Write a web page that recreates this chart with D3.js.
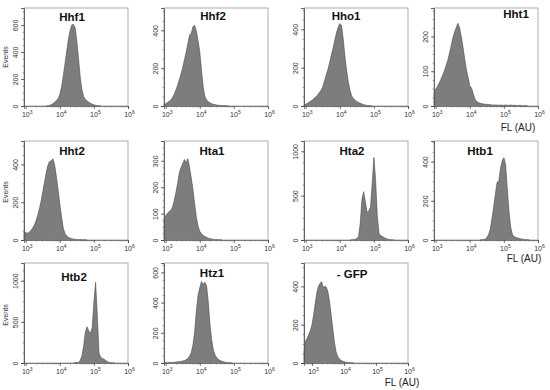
<!DOCTYPE html>
<html>
<head>
<meta charset="utf-8">
<script src="https://cdn.jsdelivr.net/npm/d3@7"></script>
<style>
  body { margin: 0; background: #fff; }
  svg { display: block; font-family: "Liberation Sans", Arial, sans-serif; }
</style>
</head>
<body>
<div id="chart"></div>
<script>
// panel titles
var names = ["Hhf1", "Hhf2", "Hho1", "Hht1", "Hht2", "Hta1", "Hta2", "Htb1", "Htb2", "Htz1", "- GFP"];

// log10(FL) of the first bin; every bin is 0.05 decades wide
var binStart = [3.60, 2.95, 2.95, 2.95, 2.95, 2.95, 4.30, 4.30, 4.40, 2.95, 2.75];
// lowest log10(FL) shown on each x axis
var xMin = [2.95, 2.95, 2.95, 2.95, 2.95, 2.95, 2.95, 2.95, 2.95, 2.95, 2.75];

// events per bin
var hhf1 = [0, 2, 5, 10, 18, 28, 40, 55, 85, 140, 220, 310, 400, 490, 560, 600, 605, 580, 480, 350, 210, 120, 70, 48, 38, 28, 20, 14, 9, 5, 3, 1, 0];
var hhf2 = [8, 12, 18, 25, 32, 45, 62, 85, 110, 140, 170, 205, 245, 285, 330, 375, 385, 420, 425, 395, 345, 285, 190, 100, 50, 32, 22, 16, 12, 9, 7, 5, 4, 3, 2, 2, 1, 1, 0];
var hho1 = [6, 9, 14, 20, 26, 32, 40, 48, 58, 70, 82, 100, 130, 160, 190, 225, 265, 300, 340, 380, 410, 430, 420, 350, 260, 185, 125, 80, 52, 38, 30, 24, 18, 14, 10, 7, 5, 3, 2, 1, 0];
var hht1 = [40, 48, 56, 66, 76, 88, 100, 115, 130, 150, 172, 195, 212, 225, 238, 225, 200, 170, 135, 105, 82, 58, 52, 35, 20, 13, 10, 8, 7, 6, 5, 5, 4, 4, 3, 3, 3, 3, 2, 3, 2, 2, 3, 2, 2, 3, 2, 2, 2, 1, 2, 1, 1, 1, 1, 0];
var hht2 = [45, 40, 36, 40, 50, 62, 78, 100, 130, 165, 205, 255, 305, 355, 395, 415, 420, 430, 395, 335, 265, 190, 125, 65, 35, 22, 14, 10, 7, 5, 4, 3, 2, 2, 1, 1, 1, 0];
var hta1 = [80, 92, 100, 108, 112, 125, 150, 180, 215, 255, 275, 290, 305, 292, 308, 275, 235, 190, 135, 85, 52, 33, 24, 17, 13, 10, 7, 5, 4, 3, 2, 2, 1, 1, 0];
var hta2 = [0, 2, 4, 8, 15, 40, 190, 460, 545, 430, 310, 330, 370, 640, 930, 680, 270, 75, 48, 40, 28, 18, 10, 5, 2, 1, 0];
var htb1 = [0, 1, 3, 5, 12, 28, 55, 110, 170, 235, 295, 300, 365, 405, 420, 385, 260, 145, 65, 28, 18, 13, 10, 8, 6, 4, 3, 2, 1, 0];
var htb2 = [0, 2, 5, 10, 30, 90, 210, 380, 440, 390, 360, 430, 740, 980, 580, 120, 70, 55, 45, 30, 15, 8, 3, 1, 0];
var htz1 = [0, 1, 2, 3, 4, 4, 5, 6, 8, 9, 11, 13, 16, 22, 30, 45, 70, 120, 210, 350, 450, 500, 540, 520, 535, 510, 400, 250, 150, 85, 52, 35, 24, 16, 11, 8, 5, 3, 2, 1, 0];
var gfp = [60, 115, 130, 150, 170, 200, 250, 310, 365, 400, 415, 425, 395, 400, 395, 370, 320, 250, 180, 110, 60, 35, 22, 15, 10, 7, 5, 3, 2, 1, 1, 0];

var counts = [hhf1, hhf2, hho1, hht1, hht2, hta1, hta2, htb1, htb2, htz1, gfp];

// y axes
var yMax = [726, 518, 511, 282, 524, 375, 1116, 505, 1215, 662, 522];
var yTicks = [
  [0, 200, 400, 600], [0, 200, 400], [0, 200, 400], [0, 100, 200],
  [0, 200, 400], [0, 100, 200, 300], [0, 500, 1000], [0, 200, 400],
  [0, 500, 1000], [0, 200, 400, 600], [0, 200, 400]
];
var xTicks = [1e3, 1e4, 1e5, 1e6];
var xTickExp = ["3", "4", "5", "6"];

// layout
var W = 550, H = 390;
var colX = [24, 164, 304, 434];
var rowTop = [8, 141, 263];
var rowBottom = [106, 240, 363];
var boxW = 104;
var titlePos = [[72, 21], [213, 20], [346, 20], [516, 18], [72, 155], [212, 155],
                [352, 155], [480, 155], [74, 281], [212, 277], [352, 278]];

var svg = d3.select("#chart").append("svg")
  .attr("width", W)
  .attr("height", H);

names.forEach(function (name, i) {
  var col = i % 4, row = Math.floor(i / 4);
  var left = colX[col], right = left + boxW;
  var top = rowTop[row], bottom = rowBottom[row];

  var x = d3.scaleLog().domain([Math.pow(10, xMin[i]), 1e6]).range([left, right]);
  var y = d3.scaleLinear().domain([0, yMax[i]]).range([bottom, top]);

  var g = svg.append("g");

  // histogram points
  var pts = counts[i].map(function (c, k) {
    return { fl: Math.pow(10, binStart[i] + k * 0.05), n: c };
  });
  pts.unshift({ fl: pts[0].fl, n: 0 });
  pts.push({ fl: pts[pts.length - 1].fl, n: 0 });

  var area = d3.area()
    .x(function (d) { return x(d.fl); })
    .y0(y(0))
    .y1(function (d) { return y(d.n); });

  g.append("path")
    .datum(pts)
    .attr("d", area)
    .attr("fill", "#7d7d7d")
    .attr("stroke", "#4a4a4a")
    .attr("stroke-width", 0.6)
    .attr("stroke-linejoin", "round");

  // frame
  g.append("rect")
    .attr("x", left)
    .attr("y", top)
    .attr("width", boxW)
    .attr("height", bottom - top)
    .attr("fill", "none")
    .attr("stroke", "#9a9a9a")
    .attr("stroke-width", 0.8);

  // x axis with log minor ticks
  var minors = [];
  for (var e = 2; e < 6; e++) {
    for (var m = 2; m < 10; m++) {
      var v = m * Math.pow(10, e);
      if (v >= Math.pow(10, xMin[i])) minors.push(v);
    }
  }
  g.append("g")
    .attr("transform", "translate(0," + bottom + ")")
    .call(d3.axisBottom(x).tickValues(minors).tickSize(1.5).tickFormat(""))
    .call(function (s) {
      s.select(".domain").remove();
      s.selectAll("line").attr("stroke", "#666").attr("stroke-width", 0.6);
    });
  var xa = g.append("g")
    .attr("transform", "translate(0," + bottom + ")")
    .call(d3.axisBottom(x).tickValues(xTicks).tickSize(3).tickFormat(""))
    .call(function (s) {
      s.select(".domain").attr("stroke", "#666").attr("stroke-width", 0.8);
      s.selectAll("line").attr("stroke", "#444").attr("stroke-width", 0.7);
    });
  var lab = xa.selectAll(".tick").append("text")
    .attr("y", 11)
    .attr("x", 1)
    .attr("text-anchor", "middle")
    .attr("fill", "#333")
    .style("font-size", "7px");
  lab.append("tspan").text("10");
  lab.append("tspan")
    .attr("dy", -3)
    .style("font-size", "5px")
    .text(function (d, k) { return xTickExp[k]; });

  // y axis with minor ticks
  var step = yTicks[i][1] - yTicks[i][0];
  var yMinor = d3.range(0, yMax[i], step / 4);
  g.append("g")
    .attr("transform", "translate(" + left + ",0)")
    .call(d3.axisLeft(y).tickValues(yMinor).tickSize(1.5).tickFormat(""))
    .call(function (s) {
      s.select(".domain").remove();
      s.selectAll("line").attr("stroke", "#666").attr("stroke-width", 0.6);
    });
  var ya = g.append("g")
    .attr("transform", "translate(" + left + ",0)")
    .call(d3.axisLeft(y).tickValues(yTicks[i]).tickSize(3).tickFormat(d3.format("d")))
    .call(function (s) {
      s.select(".domain").attr("stroke", "#555").attr("stroke-width", 0.9);
      s.selectAll("line").attr("stroke", "#444").attr("stroke-width", 0.7);
    });
  ya.selectAll(".tick text")
    .attr("x", null).attr("dy", null)
    .attr("text-anchor", "middle")
    .attr("transform", "translate(-6,0) rotate(-90)")
    .attr("fill", "#333")
    .style("font-size", "7px")
    .style("font-family", "Liberation Sans, Arial, sans-serif");

  // title
  svg.append("text")
    .attr("x", titlePos[i][0])
    .attr("y", titlePos[i][1])
    .attr("text-anchor", "middle")
    .style("font-size", "11.5px")
    .style("font-weight", "bold")
    .attr("fill", "#111")
    .text(name);
});

// "Events" on the first column
[57, 192, 315].forEach(function (cy) {
  svg.append("text")
    .attr("transform", "translate(8," + cy + ") rotate(-90)")
    .attr("text-anchor", "middle")
    .style("font-size", "7px")
    .attr("fill", "#333")
    .text("Events");
});

// axis unit labels
[[518, 131], [524, 262], [402, 386]].forEach(function (p) {
  svg.append("text")
    .attr("x", p[0])
    .attr("y", p[1])
    .attr("text-anchor", "middle")
    .style("font-size", "10px")
    .attr("fill", "#222")
    .text("FL (AU)");
});
</script>
</body>
</html>
